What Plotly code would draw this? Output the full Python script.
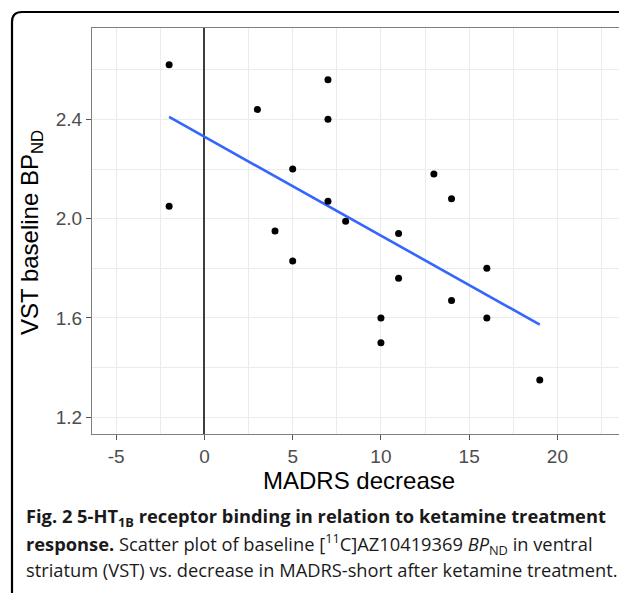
import numpy as np
import plotly.graph_objects as go

# MADRS decrease vs VST baseline BP_ND
madrs_decrease = [-2, -2, 3, 4, 5, 5, 7, 7, 7, 8, 10, 10, 11, 11, 13, 14, 14, 16, 16, 19]
vst_bp = [2.62, 2.05, 2.44, 1.95, 2.20, 1.83, 2.56, 2.40, 2.07, 1.99,
          1.60, 1.50, 1.94, 1.76, 2.18, 2.08, 1.67, 1.80, 1.60, 1.35]

x_tickvals = [-5, 0, 5, 10, 15, 20]
x_ticktext = ['-5', '0', '5', '10', '15', '20']
y_tickvals = [1.2, 1.6, 2.0, 2.4]
y_ticktext = ['1.2', '1.6', '2.0', '2.4']

caption_lines = [
    '<b>Fig. 2 5-HT<sub>1B</sub> receptor binding in relation to ketamine treatment</b>',
    '<b>response.</b> Scatter plot of baseline [<sup>11</sup>C]AZ10419369 <i>BP</i><sub>ND</sub> in ventral',
    'striatum (VST) vs. decrease in MADRS-short after ketamine treatment.',
]

# figure / panel geometry in pixels; the panel runs past the 619px window
# on the right, like the cropped original
W, H = 640, 593
L, T, R, B = 92, 28, 0, 159
PW, PH = W - L - R, H - T - B
X_PER_PX = 17.65  # data units -> pixels on x


def px(x):
    return (x - L) / PW


def py(y):
    return (T + PH - y) / PH


# linear fit like geom_smooth(method='lm')
slope, intercept = np.polyfit(madrs_decrease, vst_bp, 1)
fit_x = [min(madrs_decrease), max(madrs_decrease)]
fit_y = [intercept + slope * v for v in fit_x]

fig = go.Figure()
fig.add_trace(go.Scatter(x=fit_x, y=fit_y, mode='lines',
                         line=dict(color='#3366FF', width=2.6), hoverinfo='skip'))
fig.add_trace(go.Scatter(x=madrs_decrease, y=vst_bp, mode='markers',
                         marker=dict(color='black', size=7)))

grid = '#ebebeb'
tickfont = dict(family='Liberation Sans, Arial', size=19, color='#4d4d4d')

fig.update_xaxes(range=[-6.37, -6.37 + PW / X_PER_PX], tickvals=x_tickvals, ticktext=x_ticktext,
                 ticks='outside', ticklen=5, tickcolor='#555555', tickwidth=1,
                 tickfont=tickfont, showgrid=True, gridcolor=grid, gridwidth=1,
                 minor=dict(dtick=2.5, tick0=0, showgrid=True, gridcolor=grid, gridwidth=0.8, ticks=''),
                 zeroline=True, zerolinecolor='#3d3d3d', zerolinewidth=2,
                 showline=True, mirror=True, linecolor='#7f7f7f', linewidth=1)
fig.update_yaxes(range=[1.1327, 2.768], tickvals=y_tickvals, ticktext=y_ticktext,
                 ticks='outside', ticklen=5, tickcolor='#555555', tickwidth=1,
                 tickfont=tickfont, showgrid=True, gridcolor=grid, gridwidth=1,
                 minor=dict(dtick=0.2, tick0=1.2, showgrid=True, gridcolor=grid, gridwidth=0.8, ticks=''),
                 zeroline=False,
                 showline=True, mirror=False, linecolor='#7f7f7f', linewidth=1)

annotations = [
    dict(text='MADRS decrease', x=px(358.7), y=py(480), xref='paper', yref='paper',
         xanchor='center', yanchor='middle', showarrow=False,
         font=dict(family='Liberation Sans, Arial', size=24, color='black')),
    dict(text='VST baseline BP<sub>ND</sub>', x=px(31), y=py(233), xref='paper', yref='paper',
         xanchor='center', yanchor='middle', textangle=-90, showarrow=False,
         font=dict(family='Liberation Sans, Arial', size=24, color='black')),
]
cap_mid = [517, 543.5, 569.5]
for line, ym in zip(caption_lines, cap_mid):
    annotations.append(dict(text=line, x=px(23.5), y=py(ym), xref='paper', yref='paper',
                            xanchor='left', yanchor='middle', showarrow=False, align='left',
                            font=dict(family='Open Sans', size=18.3, color='#1a1a1a')))

# rounded frame around the figure (runs off the right and bottom edges)
frame = (f'M {px(12)} {py(640)} L {px(12)} {py(22)} '
         f'Q {px(12)} {py(12)} {px(22)} {py(12)} L {px(700)} {py(12)}')

fig.update_layout(
    width=W, height=H,
    margin=dict(l=L, r=R, t=T, b=B),
    plot_bgcolor='white', paper_bgcolor='white',
    showlegend=False,
    annotations=annotations,
    shapes=[dict(type='path', path=frame, xref='paper', yref='paper',
                 line=dict(color='black', width=2.2), layer='above')],
)

# drop the default page margin; the window crops the figure at 619px
fig.write_html('out.html', config={'displayModeBar': False},
               post_script="document.body.style.margin='0';document.body.style.overflow='hidden';")
